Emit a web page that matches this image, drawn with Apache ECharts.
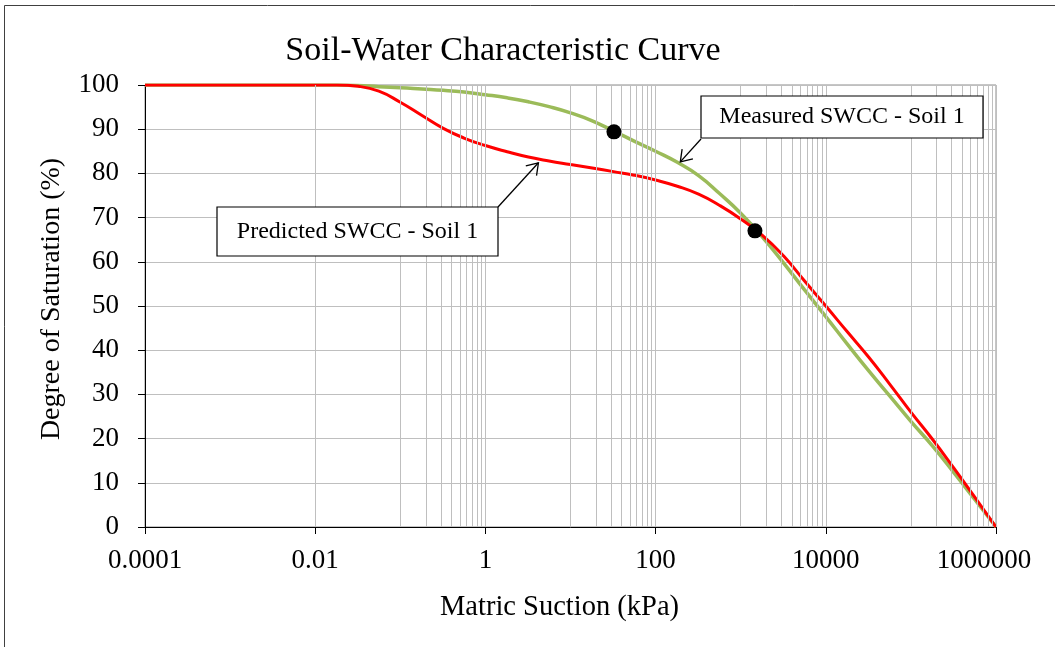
<!DOCTYPE html>
<html><head><meta charset="utf-8">
<script src="https://cdn.jsdelivr.net/npm/echarts@6/dist/echarts.min.js"></script>
<style>html,body{margin:0;padding:0;background:#fff}#c{width:1055px;height:647px}</style>
</head><body><div id="c"></div>
<script>
// ---- data ----
const tickValues = [0.0001, 0.01, 1, 100, 10000, 1000000];
const tickLabels = ['0.0001', '0.01', '1', '100', '10000', '1000000'];

const suction = [0.0001, 0.001, 0.01, 0.018, 0.032, 0.056, 0.1, 0.18, 0.32, 0.56, 1, 1.8, 3.2, 5.6, 10, 18, 32, 56, 100, 180, 320, 560, 1000, 1800, 3200, 5600, 10000, 18000, 32000, 56000, 100000, 180000, 320000, 560000, 1000000];

const measuredSaturation  = [100, 100, 100, 100, 99.9, 99.6, 99.4, 99.1, 98.8, 98.4, 97.8, 97.1, 96.2, 95.1, 93.7, 91.9, 89.6, 87.3, 85.0, 82.5, 79.5, 75.5, 71.0, 65.6, 59.7, 53.7, 47.6, 41.3, 35.3, 29.7, 23.9, 18.3, 12.3, 6.3, 0];
const predictedSaturation = [100, 100, 100, 100, 99.7, 98.6, 96.1, 93.1, 90.2, 88.0, 86.3, 84.9, 83.7, 82.8, 82.0, 81.2, 80.4, 79.6, 78.5, 77.1, 75.3, 72.8, 69.7, 66.0, 61.3, 55.7, 50.0, 44.1, 38.4, 32.4, 26.0, 19.8, 13.3, 6.8, 0];

const pointSuction    = [32.4, 1470];
const pointSaturation = [89.4, 67.0];

const measuredLabel  = 'Measured SWCC - Soil 1';
const predictedLabel = 'Predicted SWCC - Soil 1';
const measuredArrowTip  = [195, 82.6];
const predictedArrowTip = [4.2, 82.4];

// vertical gridline values: every decade, plus 2..9 multiples in the odd decades (Excel log base 100 minor grid)
const gridX = [];
for (let e = -4; e <= 6; e++) {
  gridX.push(Math.pow(10, e));
  if (Math.abs(e % 2) === 1) for (let k = 2; k <= 9; k++) gridX.push(k * Math.pow(10, e));
}

const zip = (a, b) => a.map((v, i) => [v, b[i]]);
const FONT = '"Liberation Serif", "Times New Roman", serif';

const chart = echarts.init(document.getElementById('c'), null, {renderer: 'canvas'});
chart.setOption({
  animation: false,
  backgroundColor: '#fff',
  title: {
    text: 'Soil-Water Characteristic Curve',
    left: 498, top: 29, textAlign: 'center',
    textStyle: {fontFamily: FONT, fontSize: 34, fontWeight: 'normal', color: '#000'}
  },
  grid: {left: 145, top: 85, width: 851, height: 442, show: true, borderColor: '#8c8c8c', borderWidth: 1, backgroundColor: 'transparent'},
  xAxis: {
    type: 'log', logBase: 100, min: tickValues[0], max: tickValues[tickValues.length - 1],
    name: 'Matric Suction (kPa)', nameLocation: 'middle', nameGap: 66,
    nameTextStyle: {fontFamily: FONT, fontSize: 28.5, color: '#000', padding: [0, 22, 0, 0]},
    axisLine: {show: true, lineStyle: {color: '#000', width: 1}},
    axisTick: {show: true, inside: false, length: 7, lineStyle: {color: '#000'}},
    axisLabel: {
      fontFamily: FONT, fontSize: 27, color: '#000', margin: 20,
      formatter: v => {
        const i = tickValues.findIndex(t => Math.abs(Math.log10(t) - Math.log10(v)) < 1e-6);
        if (i < 0) return '';
        return i === tickValues.length - 1 ? '{last|' + tickLabels[i] + '}' : tickLabels[i];
      },
      rich: {last: {fontFamily: FONT, fontSize: 27, color: '#000', padding: [0, 24, 0, 0]}}
    },
    splitLine: {show: false},
    minorTick: {show: false}, minorSplitLine: {show: false}
  },
  yAxis: {
    type: 'value', min: 0, max: 100, interval: 10,
    name: 'Degree of Saturation (%)', nameLocation: 'middle', nameGap: 79,
    nameTextStyle: {fontFamily: FONT, fontSize: 28, color: '#000', padding: [0, 0, 0, 14]},
    axisLine: {show: true, lineStyle: {color: '#000', width: 1}},
    axisTick: {show: true, inside: false, length: 7, lineStyle: {color: '#000'}},
    axisLabel: {fontFamily: FONT, fontSize: 27, color: '#000', margin: 26},
    splitLine: {show: true, lineStyle: {color: '#bfbfbf', width: 1}}
  },
  series: [
    {
      type: 'line', data: [], z: 1, silent: true,
      markLine: {
        silent: true, symbol: ['none', 'none'], animation: false,
        label: {show: false},
        lineStyle: {color: '#bfbfbf', width: 1, type: 'solid'},
        emphasis: {disabled: true},
        data: gridX.map(v => ({xAxis: v}))
      }
    },
    {
      name: measuredLabel, type: 'line', data: zip(suction, measuredSaturation),
      smooth: 0.5, showSymbol: false, z: 3,
      lineStyle: {color: '#9bbb59', width: 3.5}
    },
    {
      name: predictedLabel, type: 'line', data: zip(suction, predictedSaturation),
      smooth: 0.5, showSymbol: false, z: 4,
      lineStyle: {color: '#ff0000', width: 3}
    },
    {
      type: 'scatter', data: zip(pointSuction, pointSaturation), symbolSize: 15, z: 5,
      itemStyle: {color: '#000', opacity: 1}
    }
  ]
});

function arrow(from, to) {
  const ang = Math.atan2(from[1] - to[1], from[0] - to[0]);
  const L = 13, a = 34 * Math.PI / 180;
  const w1 = [to[0] + L * Math.cos(ang + a), to[1] + L * Math.sin(ang + a)];
  const w2 = [to[0] + L * Math.cos(ang - a), to[1] + L * Math.sin(ang - a)];
  return [
    {type: 'polyline', shape: {points: [from, to]}, style: {stroke: '#000', lineWidth: 1.3, fill: null}, z: 10},
    {type: 'polyline', shape: {points: [w1, to, w2]}, style: {stroke: '#000', lineWidth: 1.3, fill: null}, z: 10}
  ];
}
function box(x, y, w, h, text) {
  return [
    {type: 'rect', shape: {x: x, y: y, width: w, height: h}, style: {fill: '#fff', stroke: '#000', lineWidth: 1.2}, z: 11},
    {type: 'text', x: x + w / 2, y: y + h / 2, z: 12,
     style: {text: text, font: '24px ' + FONT, fill: '#000', textAlign: 'center', textVerticalAlign: 'middle', align: 'center', verticalAlign: 'middle'}}
  ];
}
const mTip = chart.convertToPixel({xAxisIndex: 0, yAxisIndex: 0}, measuredArrowTip);
const pTip = chart.convertToPixel({xAxisIndex: 0, yAxisIndex: 0}, predictedArrowTip);
chart.setOption({
  graphic: [].concat(
    [{type: 'rect', shape: {x: 4.5, y: 5.5, width: 1200, height: 1000}, style: {fill: null, stroke: '#404040', lineWidth: 1}, z: 0, silent: true}],
    arrow([701, 139], mTip),
    box(701, 96, 282, 42, measuredLabel),
    arrow([498, 207], pTip),
    box(217, 207, 281, 49, predictedLabel)
  )
});
</script>
</body></html>
